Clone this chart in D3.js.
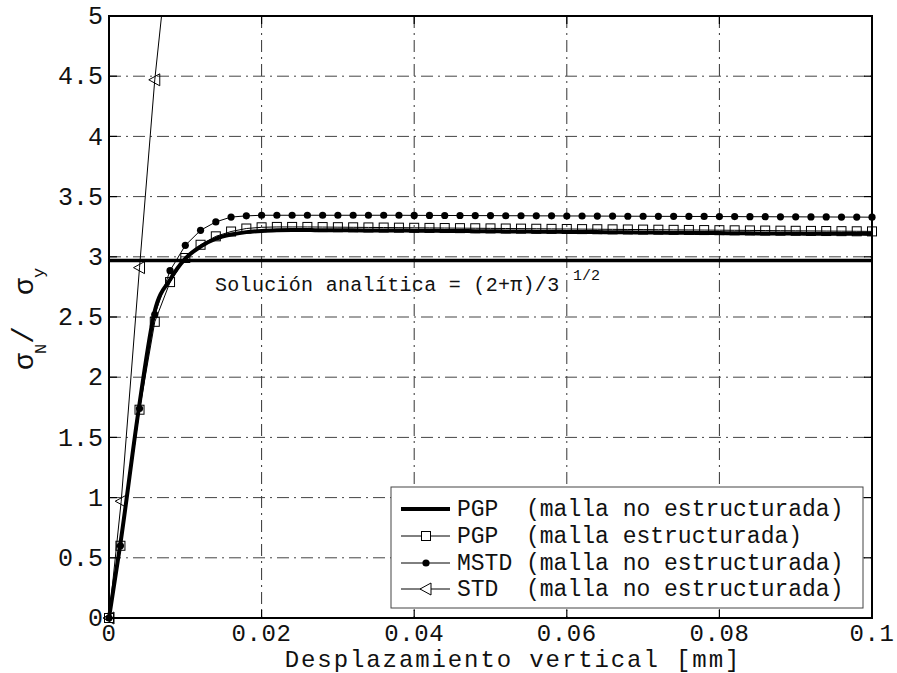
<!DOCTYPE html>
<html><head><meta charset="utf-8">
<script src="https://cdn.jsdelivr.net/npm/d3@7"></script>
<style>body{margin:0;background:#fff}text{font-family:"Liberation Mono","DejaVu Sans Mono",monospace;fill:#111}</style>
</head><body><svg id="c" width="897" height="673"></svg>
<script>
const xValues = [0,0.0015,0.004,0.006,0.008,0.010,0.012,0.014,0.016,0.018,
  0.020,0.022,0.024,0.026,0.028,0.030,0.032,0.034,0.036,0.038,
  0.040,0.042,0.044,0.046,0.048,0.050,0.052,0.054,0.056,0.058,
  0.060,0.062,0.064,0.066,0.068,0.070,0.072,0.074,0.076,0.078,
  0.080,0.082,0.084,0.086,0.088,0.090,0.092,0.094,0.096,0.098,0.100];
const pgpUnstructured = [0,0.62,1.78,2.55,2.81,2.985,3.085,3.15,3.185,3.205,
  3.215,3.220,3.222,3.222,3.221,3.221,3.220,3.219,3.219,3.218,
  3.217,3.216,3.215,3.214,3.213,3.212,3.211,3.210,3.209,3.208,
  3.207,3.206,3.205,3.204,3.203,3.202,3.201,3.200,3.199,3.198,
  3.197,3.196,3.195,3.194,3.193,3.193,3.192,3.192,3.191,3.191,3.190];
const pgpStructured = [0,0.60,1.73,2.46,2.79,2.99,3.10,3.17,3.21,3.235,
  3.245,3.248,3.248,3.248,3.247,3.246,3.245,3.244,3.243,3.242,
  3.241,3.240,3.239,3.238,3.237,3.236,3.235,3.234,3.233,3.232,
  3.231,3.230,3.229,3.228,3.227,3.226,3.225,3.224,3.223,3.222,
  3.221,3.220,3.219,3.218,3.217,3.216,3.215,3.214,3.213,3.212,3.211];
const mstd = [0,0.60,1.74,2.52,2.885,3.095,3.22,3.29,3.33,3.34,
  3.345,3.345,3.345,3.345,3.345,3.345,3.345,3.345,3.345,3.345,
  3.344,3.344,3.343,3.343,3.342,3.342,3.341,3.341,3.340,3.340,
  3.339,3.339,3.338,3.338,3.337,3.337,3.336,3.336,3.335,3.335,
  3.334,3.334,3.333,3.333,3.332,3.332,3.331,3.331,3.330,3.330,3.329];
const stdX = [0,0.0016,0.004,0.006,0.008];
const stdY = [0,0.97,2.91,4.47,5.67];
const analytic = (2+Math.PI)/Math.sqrt(3);
const xTicks = [0,0.02,0.04,0.06,0.08,0.1];
const xTickLabels = ["0","0.02","0.04","0.06","0.08","0.1"];
const yTicks = [0,0.5,1,1.5,2,2.5,3,3.5,4,4.5,5];
const yTickLabels = ["0","0.5","1","1.5","2","2.5","3","3.5","4","4.5","5"];
const legendLabels = ["PGP  (malla no estructurada)","PGP  (malla estructurada)","MSTD (malla no estructurada)","STD  (malla no estructurada)"];

const svg = d3.select("#c");
const L=109,R=872,T=16,B=618;
const x = d3.scaleLinear().domain([0,0.1]).range([L,R]);
const y = d3.scaleLinear().domain([0,5]).range([B,T]);

svg.append("defs").append("clipPath").attr("id","clip").append("rect")
  .attr("x",0).attr("y",T).attr("width",897).attr("height",B-T);

// grid
const g = svg.append("g");
g.selectAll(".gx").data(xTicks.slice(1,-1)).join("line")
  .attr("x1",d=>x(d)).attr("x2",d=>x(d)).attr("y1",T).attr("y2",B)
  .attr("stroke","#333").attr("stroke-width",1).attr("stroke-dasharray","12,5,2,5");
g.selectAll(".gy").data(yTicks.slice(1,-1)).join("line")
  .attr("y1",d=>y(d)).attr("y2",d=>y(d)).attr("x1",L).attr("x2",R)
  .attr("stroke","#444").attr("stroke-width",1).attr("stroke-dasharray","12,5,2,5");

// analytic line
svg.append("line").attr("x1",x(0)).attr("x2",x(0.1)).attr("y1",y(analytic)).attr("y2",y(analytic))
  .attr("stroke","#000").attr("stroke-width",3.5);

const plot = svg.append("g").attr("clip-path","url(#clip)");
const lineC = d3.line().x(d=>x(d[0])).y(d=>y(d[1]));
const pgpU = xValues.map((v,i)=>[v,pgpUnstructured[i]]);
const pgpS = xValues.map((v,i)=>[v,pgpStructured[i]]);
const ms = xValues.map((v,i)=>[v,mstd[i]]);
const st = stdX.map((v,i)=>[v,stdY[i]]);

plot.append("path").attr("d",d3.line().x(d=>x(d[0])).y(d=>y(d[1])).curve(d3.curveMonotoneX)(pgpU))
  .attr("fill","none").attr("stroke","#000").attr("stroke-width",4);
plot.append("path").attr("d",lineC(pgpS)).attr("fill","none").attr("stroke","#000").attr("stroke-width",1);
plot.append("path").attr("d",lineC(ms)).attr("fill","none").attr("stroke","#000").attr("stroke-width",1);
plot.append("path").attr("d",lineC(st)).attr("fill","none").attr("stroke","#000").attr("stroke-width",1);

const mk = svg.append("g");
mk.selectAll(".sq").data(pgpS).join("rect")
  .attr("x",d=>x(d[0])-4.5).attr("y",d=>y(d[1])-4.5).attr("width",9).attr("height",9)
  .attr("fill","none").attr("stroke","#000").attr("stroke-width",1);
mk.selectAll(".dt").data(ms).join("circle")
  .attr("cx",d=>x(d[0])).attr("cy",d=>y(d[1])).attr("r",3.6).attr("fill","#000");
const tri = "M-6,0L5,-6L5,6Z";
mk.selectAll(".tr").data(st.filter(d=>d[1]<=5)).join("path")
  .attr("d",tri).attr("transform",d=>`translate(${x(d[0])},${y(d[1])})`)
  .attr("fill","none").attr("stroke","#000").attr("stroke-width",1);

// axes box and ticks
svg.append("rect").attr("x",L).attr("y",T).attr("width",R-L).attr("height",B-T)
  .attr("fill","none").attr("stroke","#000").attr("stroke-width",2);
const tk = svg.append("g").attr("stroke","#000").attr("stroke-width",1.2);
xTicks.forEach(d=>{
  tk.append("line").attr("x1",x(d)).attr("x2",x(d)).attr("y1",B).attr("y2",B-8);
  tk.append("line").attr("x1",x(d)).attr("x2",x(d)).attr("y1",T).attr("y2",T+8);
});
yTicks.forEach(d=>{
  tk.append("line").attr("y1",y(d)).attr("y2",y(d)).attr("x1",L).attr("x2",L+8);
  tk.append("line").attr("y1",y(d)).attr("y2",y(d)).attr("x1",R).attr("x2",R-8);
});

// tick labels
svg.selectAll(".xl").data(xTicks).join("text")
  .attr("x",d=>x(d)).attr("y",641).attr("text-anchor","middle").attr("font-size",24)
  .attr("letter-spacing",0.6).text((d,i)=>xTickLabels[i]);
svg.selectAll(".yl").data(yTicks).join("text")
  .attr("x",103).attr("y",d=>y(d)).attr("dy","0.33em").attr("text-anchor","end").attr("font-size",25)
  .text((d,i)=>yTickLabels[i]);

// x label
svg.append("text").attr("x",513).attr("y",667).attr("text-anchor","middle").attr("font-size",24)
  .attr("letter-spacing",1.9).text("Desplazamiento vertical [mm]");

// y label
function rt(px,py,size,txt){
  svg.append("text").attr("transform",`translate(${px},${py}) rotate(-90)`).attr("font-size",size).text(txt);
}
rt(33,370,28,"σ");
rt(46,354,17,"N");
rt(33,344,30,"/");
rt(33,295,28,"σ");
rt(44,278,17,"y");

// annotation
svg.append("text").attr("x",215).attr("y",291).attr("font-size",20).attr("letter-spacing",0.3).text("Solución analítica = (2+π)/3");
svg.append("text").attr("x",573).attr("y",280).attr("font-size",15).text("1/2");

// legend
const lg = svg.append("g");
lg.append("rect").attr("x",391).attr("y",487).attr("width",472).attr("height",121)
  .attr("fill","#fff").attr("stroke","#444").attr("stroke-width",1);
const rows=[509,536,563,589];
rows.forEach((ry,i)=>{
  lg.append("line").attr("x1",401).attr("x2",450).attr("y1",ry).attr("y2",ry)
    .attr("stroke","#000").attr("stroke-width",i===0?4:1);
  if(i===1) lg.append("rect").attr("x",421.5).attr("y",ry-4.5).attr("width",9).attr("height",9).attr("fill","#fff").attr("stroke","#000");
  if(i===2) lg.append("circle").attr("cx",426).attr("cy",ry).attr("r",3.6).attr("fill","#000");
  if(i===3) lg.append("path").attr("d",tri).attr("transform",`translate(426,${ry})`).attr("fill","#fff").attr("stroke","#000");
  lg.append("text").attr("x",457).attr("y",ry+7).attr("font-size",23).attr("xml:space","preserve")
    .style("white-space","pre").text(legendLabels[i]);
});
</script></body></html>
